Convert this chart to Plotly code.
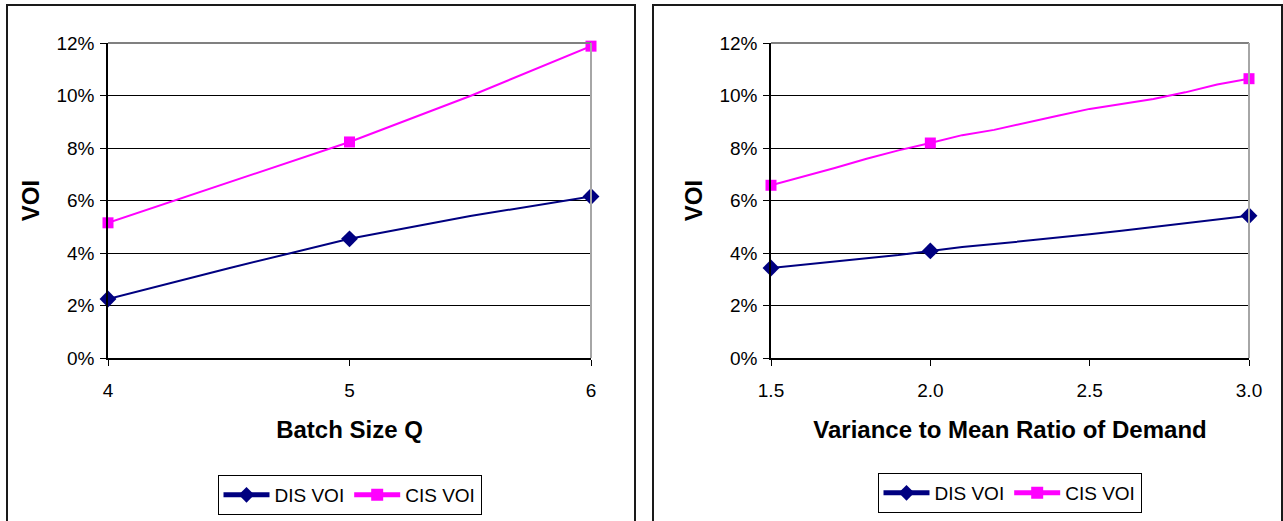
import plotly.graph_objects as go

# ---------------- data ----------------
# Left chart: VOI vs batch size Q
batch_q = [4, 4.5, 5, 5.5, 6]
batch_dis = [0.0225, 0.0342, 0.0454, 0.0541, 0.0615]
batch_cis = [0.0515, 0.0669, 0.0823, 0.0998, 0.1188]
batch_marked = [4, 5, 6]
batch_ticks = [4, 5, 6]

# Right chart: VOI vs variance-to-mean ratio of demand
vmr = [1.5, 1.6, 1.7, 1.8, 1.9, 2.0, 2.1, 2.2, 2.3, 2.4, 2.5, 2.6, 2.7, 2.8, 2.9, 3.0]
vmr_dis = [0.0343, 0.0355, 0.0367, 0.0380, 0.0392, 0.0408, 0.0423, 0.0434, 0.0446,
           0.0459, 0.0471, 0.0485, 0.0499, 0.0512, 0.0528, 0.0542]
vmr_cis = [0.0658, 0.0690, 0.0724, 0.0759, 0.0791, 0.0819, 0.0849, 0.0869, 0.0897,
           0.0923, 0.0949, 0.0968, 0.0987, 0.1012, 0.1042, 0.1064]
vmr_marked = [1.5, 2.0, 3.0]
vmr_ticks = [1.5, 2.0, 2.5, 3.0]

y_ticks = [0, 0.02, 0.04, 0.06, 0.08, 0.10, 0.12]

DIS_NAME = "DIS VOI"
CIS_NAME = "CIS VOI"
X_TITLE_LEFT = "Batch Size Q"
X_TITLE_RIGHT = "Variance to Mean Ratio of Demand"
Y_TITLE = "VOI"

# ---------------- style ----------------
W, H = 1283, 521
FONT = "Liberation Sans, Arial, sans-serif"
NAVY = "#000080"
MAGENTA = "#FF00FF"


def px_x(p):
    return p / W


def px_y(p):
    return 1 - p / H


def sizes(xs, marked, s):
    return [s if x in marked else 0 for x in xs]


fig = go.Figure()

panels = [
    dict(x=batch_q, dis=batch_dis, cis=batch_cis, marked=batch_marked, xa="x", ya="y", legend="legend"),
    dict(x=vmr, dis=vmr_dis, cis=vmr_cis, marked=vmr_marked, xa="x2", ya="y2", legend="legend2"),
]

for p in panels:
    fig.add_trace(go.Scatter(
        x=p["x"], y=p["dis"], name=DIS_NAME, mode="lines+markers",
        line=dict(color=NAVY, width=2),
        marker=dict(symbol="diamond", size=sizes(p["x"], p["marked"], 13), color=NAVY,
                    opacity=1, line=dict(width=0)),
        xaxis=p["xa"], yaxis=p["ya"], legend=p["legend"], cliponaxis=False,
    ))
    fig.add_trace(go.Scatter(
        x=p["x"], y=p["cis"], name=CIS_NAME, mode="lines+markers",
        line=dict(color=MAGENTA, width=2),
        marker=dict(symbol="square", size=sizes(p["x"], p["marked"], 11), color=MAGENTA,
                    opacity=1, line=dict(width=0)),
        xaxis=p["xa"], yaxis=p["ya"], legend=p["legend"], cliponaxis=False,
    ))

ydom = [px_y(358), px_y(43)]

common_x = dict(
    automargin=False,
    showgrid=False, zeroline=False, showline=True, linecolor="black", linewidth=1.5,
    ticks="outside", ticklen=6, tickcolor="black", tickwidth=1,
    tickfont=dict(family=FONT, size=19, color="black"),
    ticklabelstandoff=8,
    title=dict(font=dict(family=FONT, size=24, color="black", weight="bold"), standoff=22),
)
common_y = dict(
    automargin=False,
    range=[0, 0.12], tickvals=y_ticks, tickformat=".0%",
    showgrid=True, gridcolor="black", gridwidth=1, zeroline=False,
    showline=True, linecolor="black", linewidth=1.5,
    ticks="outside", ticklen=6, tickcolor="black", tickwidth=1,
    tickfont=dict(family=FONT, size=19, color="black"),
    ticklabelstandoff=2,
    title=dict(text=Y_TITLE, font=dict(family=FONT, size=24, color="black", weight="bold"), standoff=10),
    domain=ydom,
)

legend_common = dict(
    orientation="h", xanchor="center", yanchor="top",
    bordercolor="black", borderwidth=1, bgcolor="white",
    font=dict(family=FONT, size=19, color="black"), itemsizing="constant",
    itemwidth=46, tracegroupgap=0,
)

fig.update_layout(
    width=W, height=H,
    margin=dict(l=0, r=0, t=0, b=0, autoexpand=False),
    paper_bgcolor="white", plot_bgcolor="white",
    font=dict(family=FONT, color="black"),
    xaxis=dict(common_x, range=[4, 6], tickvals=batch_ticks,
               domain=[px_x(108), px_x(591)], anchor="y",
               title=dict(common_x["title"], text=X_TITLE_LEFT)),
    yaxis=dict(common_y, anchor="x"),
    xaxis2=dict(common_x, range=[1.5, 3.0], tickvals=vmr_ticks, tickformat=".1f",
                domain=[px_x(771), px_x(1249)], anchor="y2",
                title=dict(common_x["title"], text=X_TITLE_RIGHT)),
    yaxis2=dict(common_y, anchor="x2"),
    legend=dict(legend_common, x=px_x(349.5), y=px_y(475)),
    legend2=dict(legend_common, x=px_x(1009.5), y=px_y(473)),
    showlegend=True,
)

shapes = []
# outer chart frames
for x0, x1 in [(7, 635), (653, 1282)]:
    shapes.append(dict(type="rect", xref="paper", yref="paper",
                       x0=px_x(x0), x1=px_x(x1), y0=-0.1, y1=px_y(5),
                       line=dict(color="#1a1a1a", width=2), fillcolor="rgba(0,0,0,0)",
                       layer="below"))
# plot-area top/right borders (gray)
for xr, yr in [("x domain", "y domain"), ("x2 domain", "y2 domain")]:
    shapes.append(dict(type="line", xref=xr, yref=yr, x0=0, x1=1, y0=1, y1=1,
                       line=dict(color="#808080", width=2)))
    shapes.append(dict(type="line", xref=xr, yref=yr, x0=1, x1=1, y0=0, y1=1,
                       line=dict(color="#a6a6a6", width=2)))
fig.update_layout(shapes=shapes)

fig.write_html(
    "out.html",
    config={"displayModeBar": False},
    post_script="document.body.style.margin='0';document.body.style.overflow='hidden';",
)
